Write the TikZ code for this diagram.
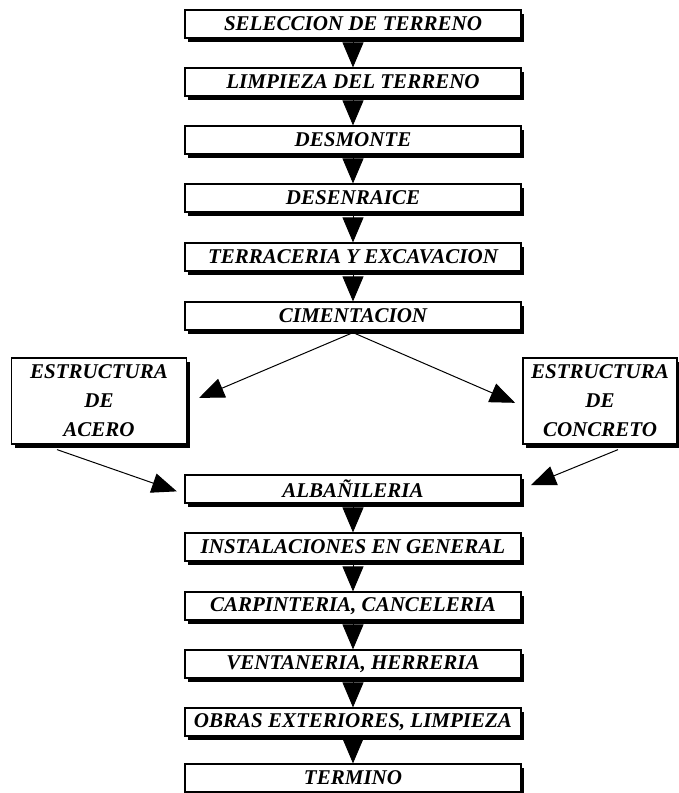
\documentclass[tikz,border=0pt]{standalone}
\usepackage{fontspec}
\setmainfont{Liberation Serif}
\usetikzlibrary{arrows.meta,positioning,shadows}

\begin{document}
\begin{tikzpicture}[
    x=1pt, y=-1pt,
    paso/.style={rectangle, draw, line width=1.2pt, fill=white, minimum width=336pt, minimum height=28pt, inner sep=0pt, font=\fontsize{21}{24}\selectfont\bfseries\itshape, drop shadow={shadow xshift=3pt, shadow yshift=-4pt, fill=black, opacity=1}},
    estructura/.style={rectangle, draw, line width=1.2pt, fill=white, minimum height=86pt, inner sep=0pt, align=center, font=\fontsize{21}{29}\selectfont\bfseries\itshape, drop shadow={shadow xshift=3pt, shadow yshift=-4pt, fill=black, opacity=1}},
    flecha/.style={-{Triangle[width=21pt,length=25pt]}, line width=0.8pt},
    flechad/.style={-{Triangle[width=20pt,length=25pt]}, line width=1pt},
]
\useasboundingbox (0,0) rectangle (678,793);

\node[paso] (sel) at (353,24) {SELECCION DE TERRENO};
\node[paso] (lim) at (353,82) {LIMPIEZA DEL TERRENO};
\node[paso] (desm) at (353,140) {DESMONTE};
\node[paso] (desen) at (353,198) {DESENRAICE};
\node[paso] (terr) at (353,257) {TERRACERIA Y EXCAVACION};
\node[paso] (cim) at (353,316) {CIMENTACION};

\node[estructura, minimum width=175pt] (acero) at (99,401) {ESTRUCTURA\\DE\\ACERO};
\node[estructura, minimum width=154pt] (concreto) at (600,401) {ESTRUCTURA\\DE\\CONCRETO};

\node[paso] (alb) at (353,489) {ALBAÑILERIA};
\node[paso] (inst) at (353,547) {INSTALACIONES EN GENERAL};
\node[paso] (carp) at (353,606) {CARPINTERIA, CANCELERIA};
\node[paso] (vent) at (353,664) {VENTANERIA, HERRERIA};
\node[paso] (obras) at (353,722) {OBRAS EXTERIORES, LIMPIEZA};
\node[paso] (term) at (353,778) {TERMINO};

\draw[flecha] (sel) -- (lim);
\draw[flecha] (lim) -- (desm);
\draw[flecha] (desm) -- (desen);
\draw[flecha] (desen) -- (terr);
\draw[flecha] (terr) -- (cim);

\draw[flechad, shorten >=13pt] ([yshift=-2pt]cim.south) -- ([yshift=-2pt]acero.east);
\draw[flechad, shorten >=8pt] ([yshift=-2pt]cim.south) -- ([yshift=-5pt]concreto.west);
\draw[flechad, shorten >=8pt] ([xshift=-42pt, yshift=-5pt]acero.south) -- ([yshift=-5pt]alb.west);
\draw[flechad, shorten >=10pt] ([xshift=18pt, yshift=-5pt]concreto.south) -- (alb.east);

\draw[flecha] (alb) -- (inst);
\draw[flecha] (inst) -- (carp);
\draw[flecha] (carp) -- (vent);
\draw[flecha] (vent) -- (obras);
\draw[flecha] (obras) -- (term);
\end{tikzpicture}
\end{document}
